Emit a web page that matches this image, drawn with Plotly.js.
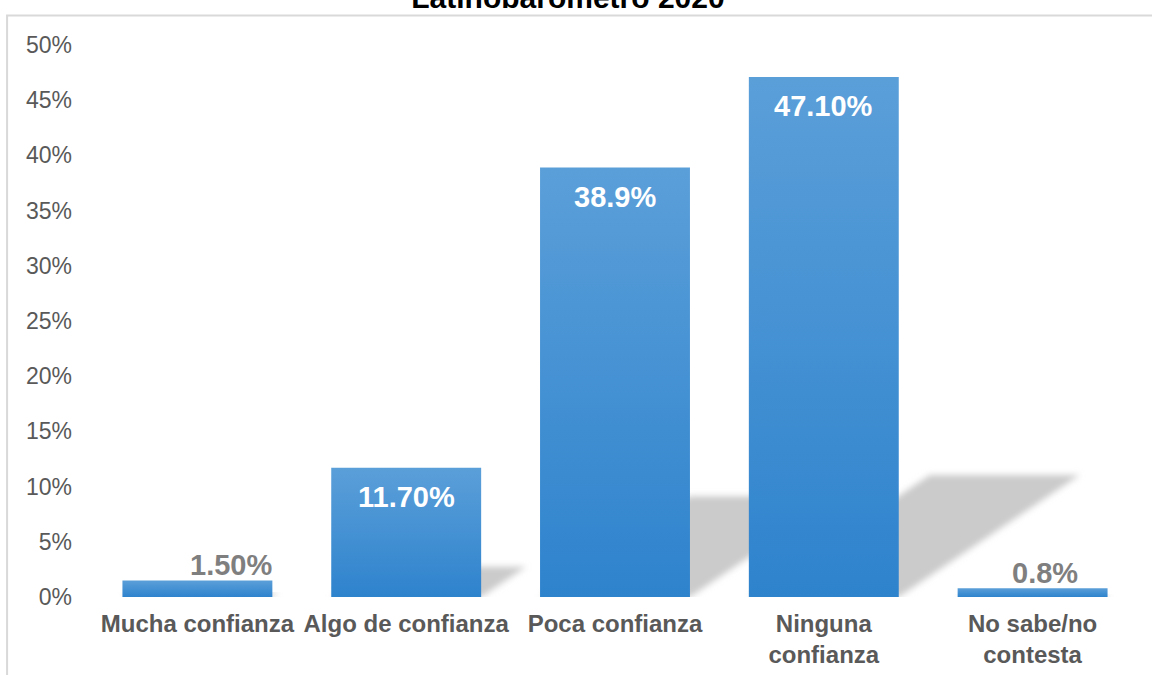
<!DOCTYPE html>
<html>
<head>
<meta charset="utf-8">
<script src="https://cdn.plot.ly/plotly-3.0.1.min.js"></script>
<style>
  html, body { margin: 0; padding: 0; background: #fff; }
  #chart { width: 1152px; height: 675px; }
</style>
</head>
<body>
<div id="chart"></div>
<script>
// ---- data ----
const categories = ["Mucha confianza", "Algo de confianza", "Poca confianza", "Ninguna<br>confianza", "No sabe/no<br>contesta"];
const values = [1.5, 11.7, 38.9, 47.1, 0.8];
const valueLabels = ["1.50%", "11.70%", "38.9%", "47.10%", "0.8%"];
const yTickVals = [0, 5, 10, 15, 20, 25, 30, 35, 40, 45, 50];
const yTickText = ["0%", "5%", "10%", "15%", "20%", "25%", "30%", "35%", "40%", "45%", "50%"];
const titleText = "Latinobarómetro 2020";

// ---- style ----
const FONT = "Liberation Sans, Arial, sans-serif";
const barWidth = 0.718;
const outsideLabelShift = [34, 0, 0, 0, 12];
const shadowDx = 0.0184;   // x shift per % of bar height (category units)
const shadowDy = 0.2346;   // y rise per % of bar height
const SHADOW_COLOR = "rgb(203, 203, 203)";

const xIdx = categories.map((_, i) => i);

const bars = {
  type: "bar",
  x: xIdx,
  y: values,
  width: barWidth,
  marker: { color: "#4592d4", line: { width: 0 } },
  hoverinfo: "skip"
};

// perspective shadows derived from values
const shapes = values.map((v, i) => {
  const hw = barWidth / 2;
  const dx = shadowDx * v, dy = shadowDy * v;
  const p = [
    [i - hw, 0], [i + hw, 0], [i + hw + dx, dy], [i - hw + dx, dy]
  ];
  return {
    type: "path", xref: "x", yref: "y", layer: "below",
    path: "M" + p.map(q => q[0] + "," + q[1]).join("L") + "Z",
    fillcolor: SHADOW_COLOR, line: { width: 0 }
  };
});

// chart area border
shapes.push({
  type: "rect", xref: "paper", yref: "paper",
  x0: -0.0823, x1: 1.3, y0: -0.5, y1: 1.0535,
  line: { color: "#d9d9d9", width: 2 }, fillcolor: "rgba(0,0,0,0)", layer: "above"
});

const annotations = values.map((v, i) => {
  const inside = v > 5;
  return {
    x: i, y: v, xref: "x", yref: "y",
    text: "<b>" + valueLabels[i] + "</b>",
    showarrow: false,
    yanchor: inside ? "top" : "bottom",
    yshift: inside ? -11 : -3,
    xshift: inside ? 0 : outsideLabelShift[i],
    font: { family: FONT, size: 29, color: inside ? "#ffffff" : "#7f7f7f" }
  };
});

const layout = {
  width: 1152, height: 675,
  margin: { l: 92.5, r: 14.5, t: 45, b: 78 },
  paper_bgcolor: "#ffffff", plot_bgcolor: "rgba(0,0,0,0)",
  showlegend: false,
  title: {
    text: "<b>" + titleText + "</b>",
    font: { family: FONT, size: 30, color: "#000000" },
    x: 0.493, xref: "container", xanchor: "center",
    y: 0.988, yref: "container", yanchor: "bottom"
  },
  xaxis: {
    type: "linear", range: [-0.5, 4.5],
    tickvals: xIdx, ticktext: categories.map(c => "<b>" + c + "</b>"),
    showgrid: false, zeroline: false, showline: false, ticks: "",
    tickfont: { family: FONT, size: 24, color: "#595959" },
    ticklabelstandoff: 10, fixedrange: true
  },
  yaxis: {
    range: [0, 50], tickvals: yTickVals, ticktext: yTickText,
    showgrid: false, zeroline: false, showline: false, ticks: "",
    tickfont: { family: FONT, size: 23, color: "#595959" },
    ticklabelstandoff: 20, fixedrange: true
  },
  shapes: shapes,
  annotations: annotations
};

Plotly.newPlot("chart", [bars], layout, { staticPlot: true, displayModeBar: false }).then(gd => {
  const svgNS = "http://www.w3.org/2000/svg";
  const svg = gd.querySelector(".main-svg");
  const defs = document.createElementNS(svgNS, "defs");
  defs.innerHTML =
    '<linearGradient id="barGrad" x1="0" y1="0" x2="0" y2="1">' +
    '<stop offset="0" stop-color="#5b9fd9"/><stop offset="1" stop-color="#2e83cd"/></linearGradient>' +
    '<filter id="shadowBlur" x="-20%" y="-20%" width="140%" height="140%">' +
    '<feGaussianBlur stdDeviation="3"/></filter>';
  svg.insertBefore(defs, svg.firstChild);
  gd.querySelectorAll(".barlayer .point path").forEach(p => { p.style.fill = "url(#barGrad)"; });
  gd.querySelectorAll(".shapelayer path").forEach(p => {
    const f = (p.style.fill || p.getAttribute("fill") || "").replace(/\s/g, "");
    if (f === "rgb(203,203,203)") {
      p.setAttribute("filter", "url(#shadowBlur)");
    }
  });
});
</script>
</body>
</html>
